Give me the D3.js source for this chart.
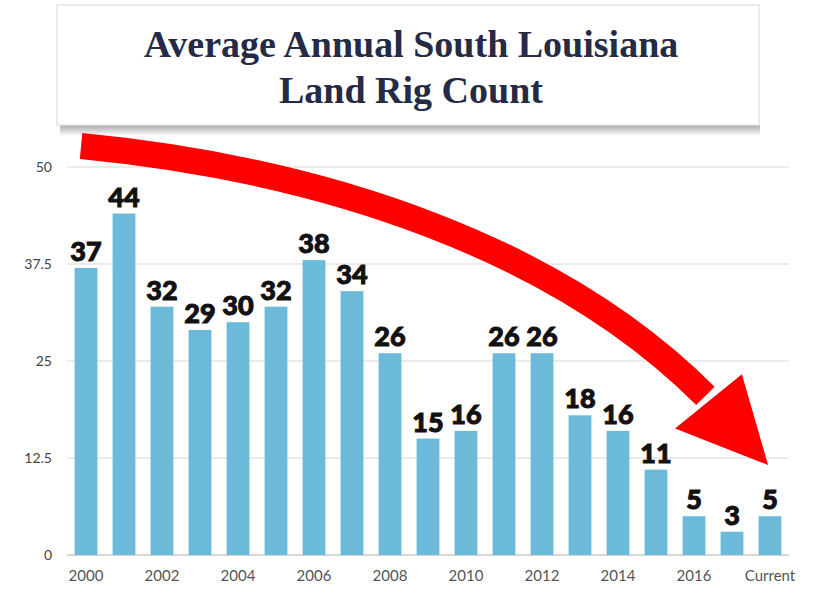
<!DOCTYPE html>
<html>
<head>
<meta charset="utf-8">
<script src="https://cdn.jsdelivr.net/npm/d3@7"></script>
<style>
  body { margin: 0; background: #fff; }
  svg { display: block; }
</style>
</head>
<body>
<div id="chart"></div>
<script>
// data
const categories = ["2000","2001","2002","2003","2004","2005","2006","2007","2008","2009",
                    "2010","2011","2012","2013","2014","2015","2016","2017","Current"];
const rigCount = [37, 44, 32, 29, 30, 32, 38, 34, 26, 15, 16, 26, 26, 18, 16, 11, 5, 3, 5];
const yTicks = [0, 12.5, 25, 37.5, 50];
const xTickLabels = ["2000","2002","2004","2006","2008","2010","2012","2014","2016","Current"];
const titleLines = ["Average Annual South Louisiana", "Land Rig Count"];

// arrow annotation, in [bar index, value] units
const arrowPath = [[-0.13, 52.7], [6.42, 49.6], [12.47, 39.3], [16.3, 20.5]];
const arrowHead = [[15.5, 16.3], [17.26, 23.3], [17.95, 11.6]];

const width = 817, height = 594;

const svg = d3.select("#chart").append("svg")
    .attr("width", width)
    .attr("height", height);

const defs = svg.append("defs");
const shadow = defs.append("linearGradient")
    .attr("id", "shadow")
    .attr("x1", "0%").attr("y1", "0%")
    .attr("x2", "0%").attr("y2", "100%");
shadow.append("stop").attr("offset", "0%").attr("stop-color", "#a8a8a8");
shadow.append("stop").attr("offset", "100%").attr("stop-color", "#ffffff");

// title box
svg.append("rect")
    .attr("x", 60).attr("y", 125)
    .attr("width", 700).attr("height", 11)
    .style("fill", "url(#shadow)");
svg.append("rect")
    .attr("x", 57).attr("y", 5)
    .attr("width", 702).attr("height", 120)
    .attr("fill", "#fff")
    .attr("stroke", "#e4e4e4")
    .attr("stroke-width", 1.5);

svg.selectAll(".title")
    .data(titleLines)
    .enter()
    .append("text")
    .attr("class", "title")
    .attr("x", 411)
    .attr("y", (d, i) => 57 + i * 46)
    .attr("text-anchor", "middle")
    .attr("font-family", "Liberation Serif, serif")
    .attr("font-weight", "bold")
    .attr("font-size", 38)
    .attr("fill", "#252a45")
    .text(d => d);

// scales
const x = d3.scaleBand()
    .domain(categories)
    .range([67, 789])
    .paddingInner(0.4)
    .paddingOuter(0.2);

const y = d3.scaleLinear()
    .domain([0, 50])
    .range([555, 167]);

// x position for fractional bar index (used for the arrow)
const xi = i => x(categories[0]) + x.bandwidth() / 2 + i * x.step();

// gridlines
svg.append("g")
    .selectAll("line")
    .data(yTicks)
    .enter()
    .append("line")
    .attr("x1", 67).attr("x2", 789)
    .attr("y1", d => y(d)).attr("y2", d => y(d))
    .attr("stroke", d => d === 0 ? "#d8d8d8" : "#ebebeb")
    .attr("stroke-width", 2);

// y axis labels
const yAxis = d3.axisLeft(y)
    .tickValues(yTicks)
    .tickSize(0)
    .tickPadding(0)
    .tickFormat(d => d);

svg.append("g")
    .attr("transform", "translate(52,0)")
    .call(yAxis)
    .call(g => g.select(".domain").remove())
    .selectAll("text")
    .attr("font-family", "Lato, sans-serif")
    .attr("font-size", 14)
    .attr("fill", "#444");

// x axis labels
const xAxis = d3.axisBottom(x)
    .tickValues(xTickLabels)
    .tickSize(0)
    .tickPadding(0);

svg.append("g")
    .attr("transform", "translate(0,570)")
    .call(xAxis)
    .call(g => g.select(".domain").remove())
    .selectAll("text")
    .attr("font-family", "Lato, sans-serif")
    .attr("font-size", 15)
    .attr("fill", "#555");

// bars
svg.selectAll(".bar")
    .data(rigCount)
    .enter()
    .append("rect")
    .attr("class", "bar")
    .attr("x", (d, i) => x(categories[i]))
    .attr("y", d => y(d))
    .attr("width", x.bandwidth())
    .attr("height", d => y(0) - y(d))
    .attr("fill", "#6bbad9");

// value labels
svg.selectAll(".label")
    .data(rigCount)
    .enter()
    .append("text")
    .attr("class", "label")
    .attr("x", (d, i) => x(categories[i]) + x.bandwidth() / 2)
    .attr("y", d => y(d) - 7)
    .attr("text-anchor", "middle")
    .attr("font-family", "Lato, DejaVu Sans, sans-serif")
    .attr("font-weight", 900)
    .attr("font-size", 27)
    .attr("fill", "#111")
    .attr("stroke", "#111")
    .attr("stroke-width", 1)
    .text(d => d);

// red arrow
const p = arrowPath.map(d => [xi(d[0]), y(d[1])]);
const curve = d3.path();
curve.moveTo(p[0][0], p[0][1]);
curve.bezierCurveTo(p[1][0], p[1][1], p[2][0], p[2][1], p[3][0], p[3][1]);

svg.append("path")
    .attr("d", curve.toString())
    .attr("fill", "none")
    .attr("stroke", "#ff0000")
    .attr("stroke-width", 26);

svg.append("polygon")
    .attr("points", arrowHead.map(d => [xi(d[0]), y(d[1])].join(",")).join(" "))
    .attr("fill", "#ff0000");
</script>
</body>
</html>
